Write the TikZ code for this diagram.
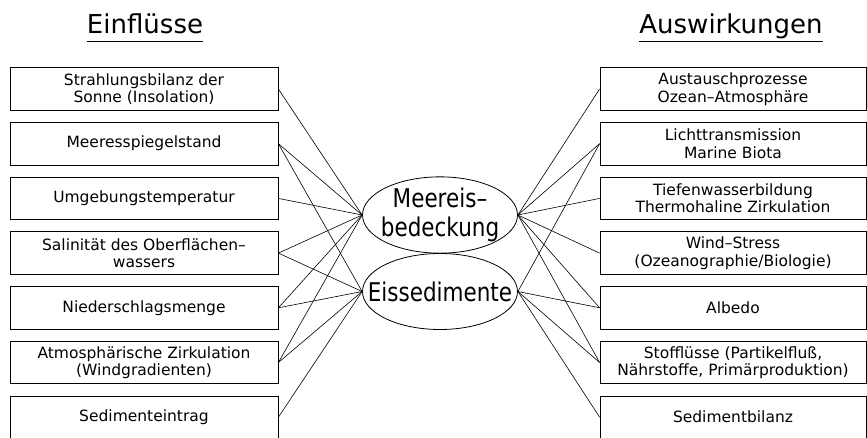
\documentclass[tikz,border=0pt]{standalone}
\usepackage{fontspec}
\setmainfont{DejaVu Sans}
\usepackage{graphicx}
\usetikzlibrary{shapes.geometric}
\begin{document}
\begin{tikzpicture}[x=1pt,y=-1pt,
  box/.style={draw, line width=0.8pt, minimum width=268pt, minimum height=42.5pt, inner sep=0pt, align=center, font=\fontsize{15.5}{17.5}\selectfont},
  rbox/.style={box, minimum width=266pt},
  oval/.style={draw, ellipse, line width=0.8pt, minimum width=155pt, minimum height=76pt, inner sep=0pt, align=center, font=\fontsize{21.5}{29}\selectfont},
  title/.style={inner sep=0pt, anchor=base, font=\fontsize{26}{30}\selectfont},
  link/.style={line width=0.6pt},
  uline/.style={line width=0.8pt}]
\clip (0,0) rectangle (867,437);
% titles
\node[title] (T1) at (145,33) {Einflüsse};
\node[title] (T2) at (731,33) {Auswirkungen};
\draw[uline] ([yshift=-8pt]T1.base west) -- ([yshift=-8pt]T1.base east);
\draw[uline] ([yshift=-8pt]T2.base west) -- ([yshift=-8pt]T2.base east);
% left boxes
\node[box] (L1) at (144,89)    {Strahlungsbilanz der\\Sonne (Insolation)};
\node[box] (L2) at (144,143.7) {Meeresspiegelstand};
\node[box] (L3) at (144,198.4) {Umgebungstemperatur};
\node[box] (L4) at (144,253.1) {Salinität des Oberflächen–\\wassers};
\node[box] (L5) at (144,307.8) {Niederschlagsmenge};
\node[box] (L6) at (144,362.5) {Atmosphärische Zirkulation\\(Windgradienten)};
\node[box] (L7) at (144,417.2) {Sedimenteintrag};
% right boxes
\node[rbox] (R1) at (733,89)    {Austauschprozesse\\Ozean–Atmosphäre};
\node[rbox] (R2) at (733,143.7) {Lichttransmission\\Marine Biota};
\node[rbox] (R3) at (733,198.4) {Tiefenwasserbildung\\Thermohaline Zirkulation};
\node[rbox] (R4) at (733,253.1) {Wind–Stress\\(Ozeanographie/Biologie)};
\node[rbox] (R5) at (733,307.8) {Albedo};
\node[rbox] (R6) at (733,362.5) {Stofflüsse (Partikelfluß,\\Nährstoffe, Primärproduktion)};
\node[rbox] (R7) at (733,417.2) {Sedimentbilanz};
% ellipses
\node[oval] (M) at (440,215) {\makebox[0pt]{\scalebox{1}[1.2]{Meereis–}}\\\makebox[0pt]{\scalebox{1}[1.2]{bedeckung}}};
\node[oval] (E) at (440,291.5) {\makebox[0pt]{\scalebox{1}[1.2]{Eissedimente}}};
% connectors
\foreach \b in {L1,L2,L3,L4,L5,L6} \draw[link] (\b.east) -- (M.west);
\foreach \b in {L2,L4,L5,L6,L7} \draw[link] (\b.east) -- (E.west);
\foreach \b in {R1,R2,R3,R4,R5,R6} \draw[link] (\b.west) -- (M.east);
\foreach \b in {R2,R5,R6,R7} \draw[link] (\b.west) -- (E.east);
\end{tikzpicture}
\end{document}
